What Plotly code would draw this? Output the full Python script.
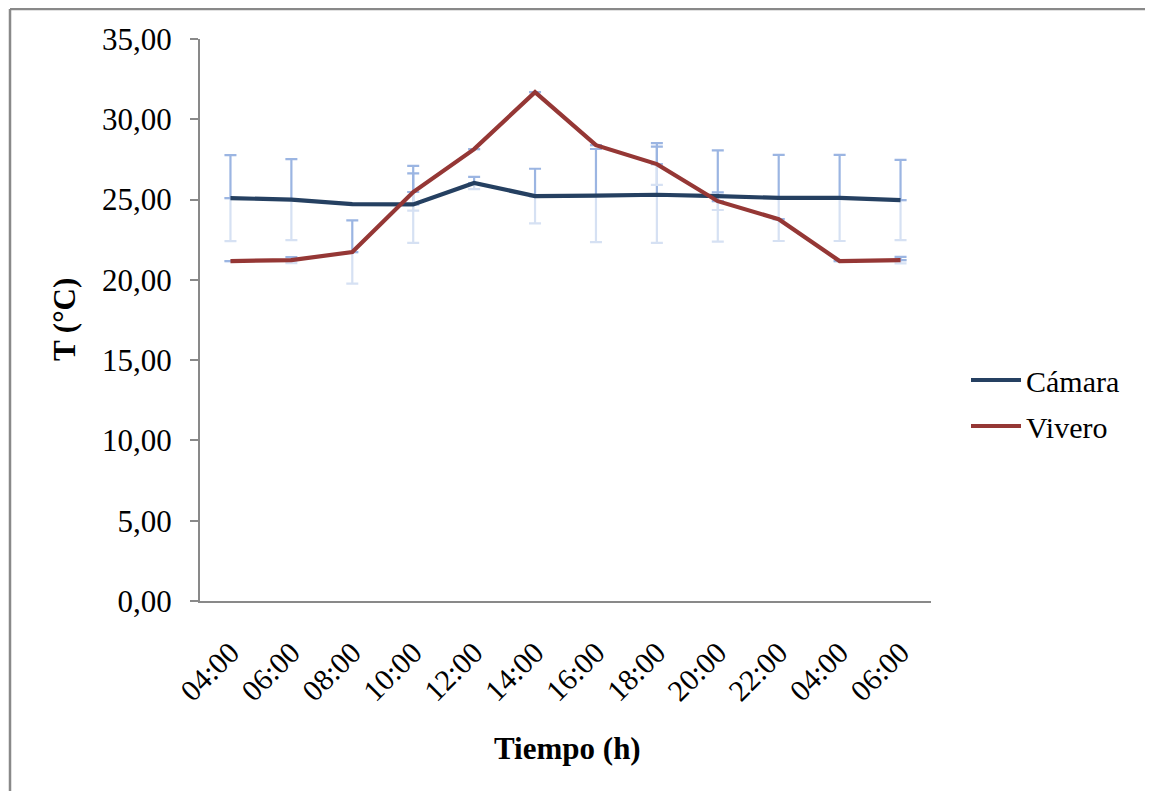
import plotly.graph_objects as go

# ---- data ----
horas = ["04:00", "06:00", "08:00", "10:00", "12:00", "14:00",
         "16:00", "18:00", "20:00", "22:00", "04:00", "06:00"]
camara = [25.09, 25.00, 24.72, 24.70, 26.03, 25.22, 25.25, 25.30, 25.22, 25.10, 25.10, 24.97]
vivero = [21.17, 21.23, 21.73, 25.47, 28.14, 31.69, 28.39, 27.21, 24.90, 23.78, 21.17, 21.23]
camara_err = [2.68, 2.52, None, 2.40, 0.38, 1.70, 2.90, 3.00, 2.84, 2.68, 2.68, 2.50]
vivero_err = [None, 0.19, 1.97, 1.16, None, None, None, 1.30, 0.55, None, None, 0.20]

x = list(range(len(horas)))

FONT = "Liberation Serif, Times New Roman, serif"
ERR_TOP = "#9bb5e2"
ERR_BOT = "#d6e1f3"

fig = go.Figure()

def zeros_like(e):
    return [0 if v is not None else None for v in e]

# error bars (two-tone: upper darker, lower faded)
for vals, err in [(camara, camara_err), (vivero, vivero_err)]:
    fig.add_trace(go.Scatter(
        x=x, y=vals, mode="markers", marker=dict(opacity=0, size=1),
        showlegend=False, hoverinfo="skip",
        error_y=dict(type="data", symmetric=False, array=zeros_like(err), arrayminus=err,
                     color=ERR_BOT, thickness=2.2, width=6)))
    fig.add_trace(go.Scatter(
        x=x, y=vals, mode="markers", marker=dict(opacity=0, size=1),
        showlegend=False, hoverinfo="skip",
        error_y=dict(type="data", symmetric=False, array=err, arrayminus=zeros_like(err),
                     color=ERR_TOP, thickness=2.2, width=6)))

fig.add_trace(go.Scatter(x=x, y=camara, mode="lines", name="Cámara",
                         line=dict(color="#254061", width=4.2), legendgroup="a"))
fig.add_trace(go.Scatter(x=x, y=vivero, mode="lines", name="Vivero",
                         line=dict(color="#953735", width=4.2), legendgroup="b"))

# geometry helpers (page pixel -> paper); page has an 8px body offset
OFF = 8
W, H = 1153 - OFF, 791 - OFF
L, T = 200 - OFF, 39 - OFF
pw, ph = 731, 562
R, B = W - L - pw, H - T - ph
px = lambda p: (p - OFF - L) / pw
py = lambda p: (T + ph - (p - OFF)) / ph

fig.update_layout(
    width=W, height=H,
    margin=dict(l=L, r=R, t=T, b=B),
    paper_bgcolor="white", plot_bgcolor="white",
    separators=",.",
    font=dict(family=FONT, color="black", size=30),
    showlegend=True,
    legend=dict(x=px(966), y=py(403), xanchor="left", yanchor="middle",
                font=dict(family=FONT, size=30, color="black"),
                tracegroupgap=4, itemwidth=50, bgcolor="rgba(0,0,0,0)"),
    xaxis=dict(range=[-0.5, len(x) - 0.5], tickmode="array", tickvals=x, ticktext=horas,
               tickangle=-45, showgrid=False, zeroline=False,
               showline=True, linecolor="#898989", linewidth=2,
               ticks="", ticklabelstandoff=20,
               tickfont=dict(family=FONT, size=30, color="black")),
    yaxis=dict(range=[0, 35], dtick=5, tickformat=".2f", showgrid=False, zeroline=False,
               showline=True, linecolor="#898989", linewidth=2,
               ticks="outside", ticklen=8, tickwidth=2, tickcolor="#898989",
               ticklabelstandoff=12,
               tickfont=dict(family=FONT, size=31, color="black")),
    annotations=[
        dict(text="<b>T (°C)</b>", x=px(64), y=0.5, xref="paper", yref="paper",
             textangle=-90, showarrow=False, xanchor="center", yanchor="middle",
             font=dict(family=FONT, size=31, color="black")),
        dict(text="<b>Tiempo (h)</b>", x=px(567), y=py(748), xref="paper", yref="paper",
             showarrow=False, xanchor="center", yanchor="middle",
             font=dict(family=FONT, size=31, color="black")),
    ],
    shapes=[
        dict(type="line", xref="paper", yref="paper", x0=px(10), x1=px(1160),
             y0=py(9), y1=py(9), line=dict(color="#898989", width=2.5)),
        dict(type="line", xref="paper", yref="paper", x0=px(10), x1=px(10),
             y0=py(9), y1=py(800), line=dict(color="#898989", width=2.5)),
    ],
)

fig.write_html("out.html")
